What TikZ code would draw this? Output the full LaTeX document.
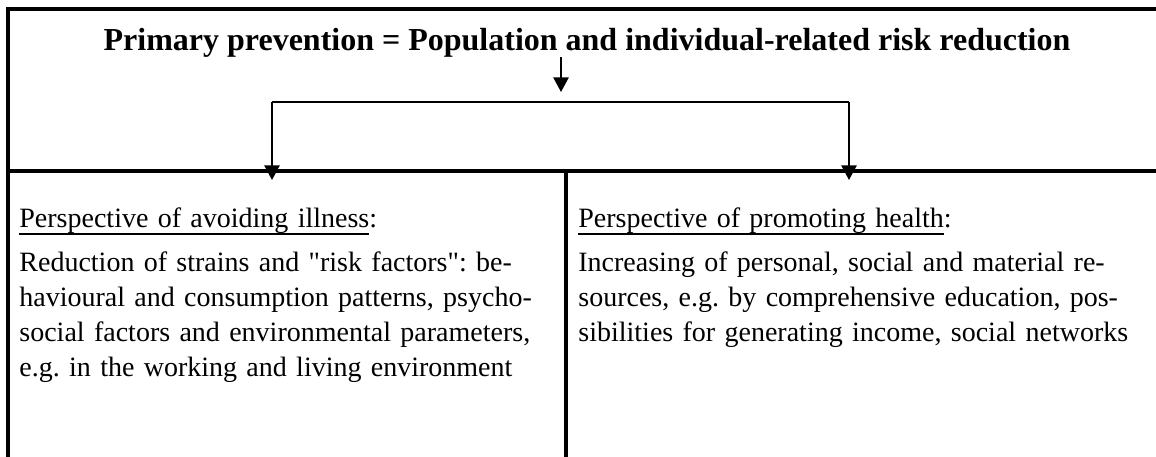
\documentclass[tikz,border=0pt]{standalone}
\usepackage{fontspec}
\setmainfont{Liberation Serif}
\usetikzlibrary{arrows.meta}
\newcommand{\unterlinie}[1]{\setbox0\hbox{#1}\rlap{\rule[-3.8pt]{\wd0}{0.9pt}}\box0}
\newcommand{\zeile}[2]{\makebox[#1][s]{#2}}

\begin{document}
\begin{tikzpicture}[x=0.5pt, y=-0.5pt,
	rahmen/.style={line width=1.7pt},
	linie/.style={line width=0.8pt},
	pfeil/.style={line width=0.9pt, -{Triangle[length=7.3pt, width=7.6pt]}},
	spalte/.style={anchor=base west, inner sep=0pt, align=left, text width=280pt, font=\fontsize{14}{17.5}\selectfont\frenchspacing}]

	\path[use as bounding box, clip] (0,0) rectangle (1156,456);

	% Rahmen
	\draw[rahmen] (8,470) -- (8,9) -- (1170,9);
	\draw[rahmen] (8,171) -- (1170,171);
	\draw[rahmen] (566,171) -- (566,470);

	% Kopf
	\node[anchor=base, inner sep=0pt, font=\bfseries\fontsize{16}{19}\selectfont] (titel) at (587,50) {Primary prevention = Population and individual-related risk reduction};

	\coordinate (spitze) at (561,92);
	\draw[pfeil] (titel.south -| spitze) -- (spitze);

	% Verzweigung
	\coordinate (gl) at (272,102);
	\coordinate (gr) at (849,102);
	\coordinate (zl) at (272,180);
	\coordinate (zr) at (849,180);

	\draw[linie] (gl) -- (gr);
	\draw[pfeil] (gl) -- (zl);
	\draw[pfeil] (gr) -- (zr);

	% Spalten
	\node[spalte] (links) at (19,227) {\unterlinie{Perspective of avoiding illness}:\\[4.5pt]
	\zeile{256pt}{Reduction of strains and \textquotedbl risk factors\textquotedbl: be-}\\
	\zeile{256pt}{havioural and consumption patterns, psycho-}\\
	\zeile{256pt}{social factors and environmental parameters,}\\
	\mbox{e.g. in the working and living environment}};

	\node[spalte] (rechts) at (578,227) {\unterlinie{Perspective of promoting health}:\\[4.5pt]
	\zeile{265pt}{Increasing of personal, social and material re-}\\
	\zeile{265pt}{sources, e.g. by comprehensive education, pos-}\\
	\mbox{sibilities for generating income, social networks}};
\end{tikzpicture}
\end{document}
